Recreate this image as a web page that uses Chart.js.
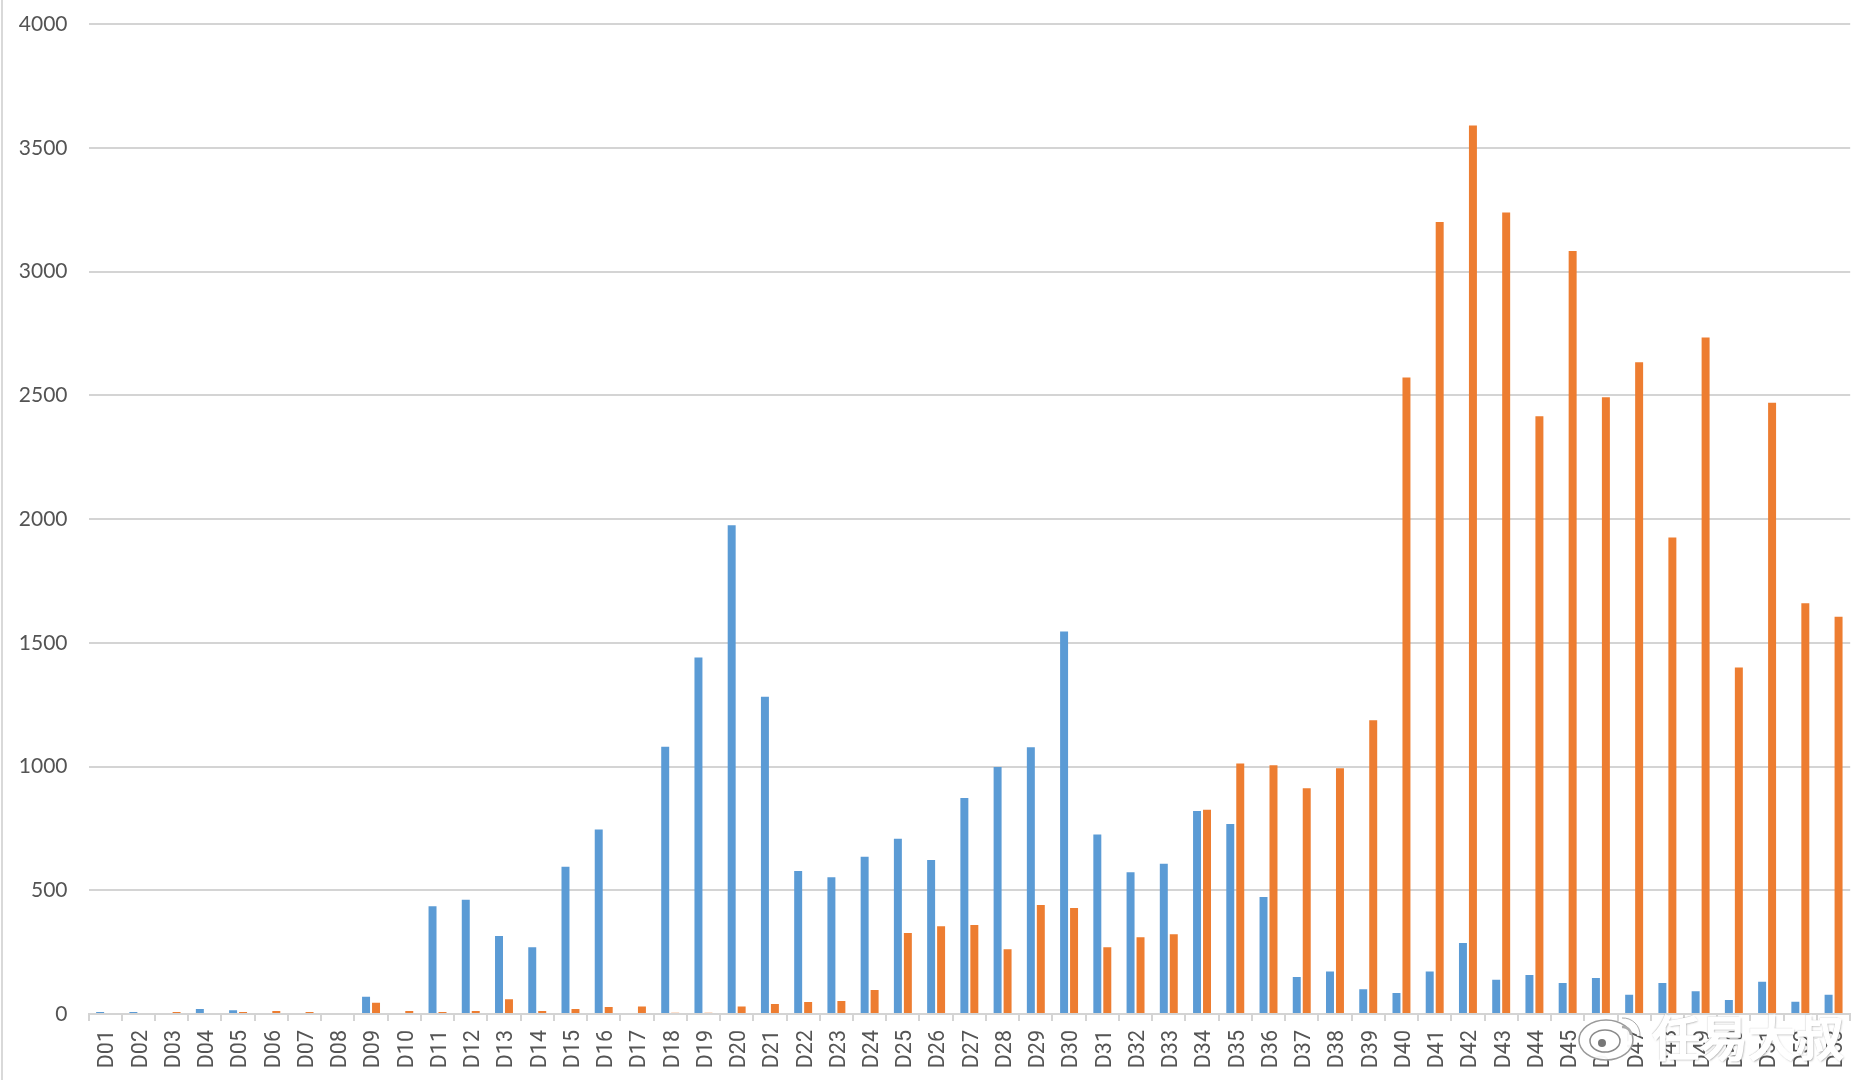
<!DOCTYPE html>
<html lang="zh">
  <head>
    <meta charset="UTF-8" />
    <title>D01-D53</title>
    <style>
      html, body { margin: 0; padding: 0; background: #fff; overflow: hidden; }
      #wrap { position: relative; width: 1861px; height: 1080px; }
      #edge {
        position: absolute; left: 1px; top: 0; width: 2px; height: 1080px;
        background: #d9d9d9;
      }
      #mark {
        position: absolute; left: 1652px; top: 1000px;
        font: 500 48px "Noto Sans CJK SC", sans-serif; line-height: 70px;
        white-space: nowrap;
        color: #fff;
        -webkit-text-stroke: 1.5px #fff;
        text-shadow: 1px 1px 2px rgba(90, 90, 90, 0.6), -1px -1px 1px rgba(90, 90, 90, 0.3);
      }
      #logo { position: absolute; left: 1576px; top: 1002px; }
    </style>
  </head>
  <body>
    <div id="wrap">
      <canvas id="myChart" width="1861" height="1080"></canvas>
      <div id="edge"></div>
      <svg id="logo" width="76" height="60" viewBox="0 0 76 60">
        <ellipse cx="30" cy="38" rx="27" ry="20" fill="#fff" fill-opacity="0.95" stroke="#9a9a9a" stroke-width="1.5" />
        <ellipse cx="29" cy="39" rx="15" ry="11" fill="#fff" stroke="#8a8a8a" stroke-width="1.5" />
        <circle cx="26" cy="41" r="4" fill="#777" />
        <path d="M46 16 A17 17 0 0 1 64 34" fill="none" stroke="#fff" stroke-width="6" />
        <path d="M46 16 A17 17 0 0 1 64 34" fill="none" stroke="#aaa" stroke-width="1" />
        <path d="M46 25 A8 8 0 0 1 55 33" fill="none" stroke="#aaa" stroke-width="2.5" />
      </svg>
      <div id="mark">任易大叔</div>
    </div>
    <script src="https://cdn.jsdelivr.net/npm/chart.js"></script>
    <script>
      const categories = [
        "D01", "D02", "D03", "D04", "D05", "D06", "D07", "D08", "D09", "D10",
        "D11", "D12", "D13", "D14", "D15", "D16", "D17", "D18", "D19", "D20",
        "D21", "D22", "D23", "D24", "D25", "D26", "D27", "D28", "D29", "D30",
        "D31", "D32", "D33", "D34", "D35", "D36", "D37", "D38", "D39", "D40",
        "D41", "D42", "D43", "D44", "D45", "D46", "D47", "D48", "D49", "D50",
        "D51", "D52", "D53",
      ];
      const blueValues = [
        8, 8, 0, 20, 15, 0, 0, 0, 70, 0,
        435, 462, 315, 270, 595, 745, 0, 1080, 1440, 1975,
        1282, 578, 553, 635, 708, 622, 873, 998, 1078, 1545,
        725, 573, 607, 820, 768, 473, 150, 172, 100, 85,
        172, 287, 138, 158, 125, 145, 78, 125, 92, 57,
        130, 50, 78,
      ];
      const orangeValues = [
        0, 0, 8, 0, 8, 12, 8, 0, 45, 12,
        8, 12, 60, 12, 20, 28, 30, 5, 5, 30,
        40, 48, 53, 97, 327, 355, 360, 262, 440, 428,
        270, 310, 322, 825, 1012, 1005, 912, 993, 1187, 2572,
        3200, 3590, 3238, 2415, 3083, 2492, 2633, 1925, 2733, 1400,
        2470, 1660, 1605,
      ];

      const textColor = "#545454";
      const lineColor = "#d4d4d4";

      new Chart(document.getElementById("myChart"), {
        type: "bar",
        data: {
          labels: categories,
          datasets: [
            { data: blueValues, backgroundColor: "#5b9bd5" },
            { data: orangeValues, backgroundColor: "#ed7d31" },
          ],
        },
        options: {
          responsive: false,
          animation: false,
          datasets: { bar: { categoryPercentage: 0.6, barPercentage: 0.8 } },
          layout: { padding: { top: 24, right: 10.8, left: 0, bottom: 0 } },
          plugins: { legend: { display: false }, tooltip: { enabled: false } },
          scales: {
            x: {
              // tick padding would otherwise push the plot area in
              afterFit: (scale) => {
                scale.height = 66;
                scale.paddingLeft = 0;
                scale.paddingRight = 0;
              },
              border: { color: lineColor, width: 2 },
              grid: { drawOnChartArea: false, color: lineColor, lineWidth: 2, tickLength: 7 },
              ticks: {
                autoSkip: false, minRotation: 90, maxRotation: 90, padding: 9, labelOffset: 3,
                color: textColor,
                font: { family: "Roboto", size: 21.5 },
              },
            },
            y: {
              min: 0,
              max: 4000,
              afterFit: (scale) => {
                scale.width = 88.5;
                scale.paddingTop = 0;
                scale.paddingBottom = 0;
              },
              border: { display: false },
              grid: { color: lineColor, lineWidth: 2, drawTicks: false },
              ticks: {
                stepSize: 500, padding: 21, color: textColor,
                font: { family: "Lato", size: 21 },
                callback: (value) => String(value),
              },
            },
          },
        },
      });
    </script>
  </body>
</html>
